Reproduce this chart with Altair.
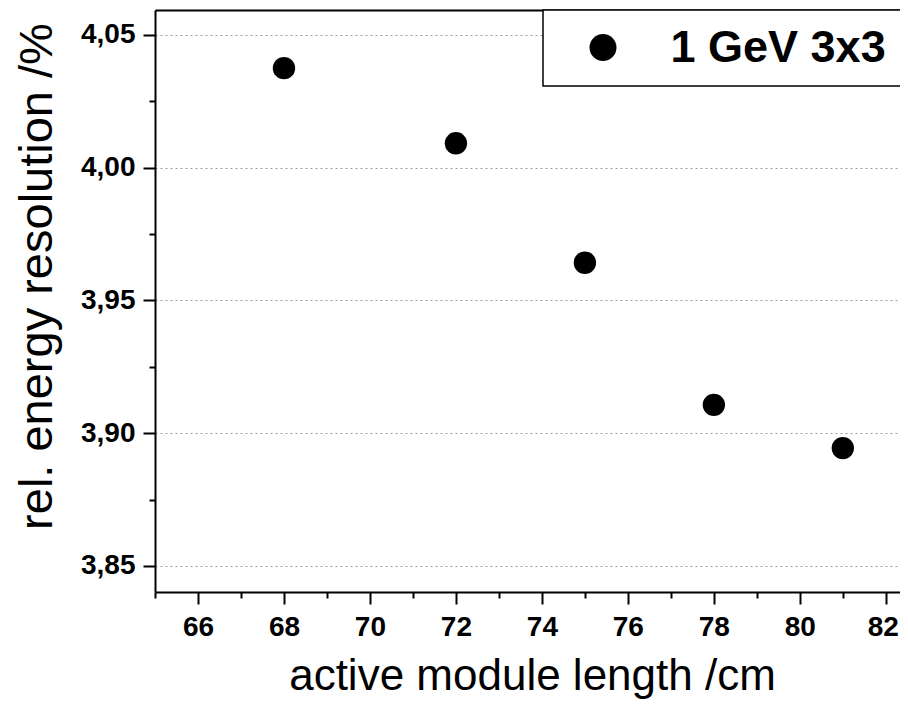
import altair as alt
import pandas as pd

# ---- data ----
length_cm = [68, 72, 75, 78, 81]
resolution_pct = [4.0375, 4.0092, 3.9642, 3.9107, 3.8944]
series_name = ["1 GeV 3x3"] * 5

x_major = [66, 68, 70, 72, 74, 76, 78, 80, 82]
x_minor = [65, 67, 69, 71, 73, 75, 77, 79, 81]
y_major = [3.85, 3.90, 3.95, 4.00, 4.05]
y_minor = [3.875, 3.925, 3.975, 4.025]
x_domain = [65, 82.33]
y_domain = [3.8402, 4.0594]

df = pd.DataFrame({"length": length_cm, "res": resolution_pct, "series": series_name})

FONT = "Liberation Sans"
xs = alt.Scale(domain=x_domain, nice=False, zero=False)
ys = alt.Scale(domain=y_domain, nice=False, zero=False)
comma_expr = "replace(format(datum.value, '.2f'), '.', ',')"

# minor ticks layer (invisible marks, only axes)
minor = alt.Chart(df).mark_point(opacity=0).encode(
    x=alt.X("length:Q", scale=xs, axis=alt.Axis(
        values=x_minor, orient="bottom", labels=False, domain=False, grid=False,
        tickSize=6, tickWidth=2, tickColor="black", title=None)),
    y=alt.Y("res:Q", scale=ys, axis=alt.Axis(
        values=y_minor, orient="left", labels=False, domain=False, grid=False,
        tickSize=6, tickWidth=2, tickColor="black", title=None)),
)

# top frame line
top = alt.Chart(df).mark_point(opacity=0).encode(
    x=alt.X("length:Q", scale=xs, axis=alt.Axis(
        orient="top", labels=False, ticks=False, grid=False, domain=True,
        domainColor="black", domainWidth=2, title=None)),
)

points = alt.Chart(df).mark_point(filled=True, size=500, opacity=1).encode(
    x=alt.X("length:Q", scale=xs, axis=alt.Axis(
        values=x_major, orient="bottom", format="d", grid=False,
        tickSize=12, tickWidth=2, tickColor="black",
        domainColor="black", domainWidth=2,
        labelFont=FONT, labelFontSize=28, labelFontWeight="bold", labelColor="black",
        labelPadding=9,
        labelOffset={"condition": {"test": "datum.value == 82", "value": -3}, "value": 0},
        title="active module length /cm", titleFont=FONT, titleFontSize=44,
        titleFontWeight="normal", titleColor="black",
        titleX=377, titleY=97, titleBaseline="alphabetic", titleAlign="center")),
    y=alt.Y("res:Q", scale=ys, axis=alt.Axis(
        values=y_major, orient="left", labelExpr=comma_expr,
        grid=True, gridColor="#9a9a9a", gridDash=[2, 3], gridWidth=1,
        tickSize=12, tickWidth=2, tickColor="black",
        domainColor="black", domainWidth=2,
        labelFont=FONT, labelFontSize=28, labelFontWeight="bold", labelColor="black",
        labelPadding=8,
        title="rel. energy resolution /%", titleFont=FONT, titleFontSize=47,
        titleFontWeight="normal", titleColor="black",
        titleX=-104, titleY=266, titleBaseline="alphabetic", titleAlign="center")),
    shape=alt.Shape("series:N", scale=alt.Scale(range=["circle"]), legend=alt.Legend(
        title=None, orient="none", legendX=388, legendY=0,
        symbolType="circle", symbolSize=729, symbolFillColor="black",
        symbolStrokeColor="black", symbolOpacity=1, symbolOffset=22.5,
        labelFont=FONT, labelFontSize=45, labelFontWeight="bold", labelColor="black",
        labelLimit=500, labelOffset=45, padding=15,
        strokeColor="black", fillColor="white")),
    color=alt.value("black"),
)

chart = alt.layer(minor, top, points).resolve_axis(
    x="independent", y="independent"
).properties(
    width=745, height=582,
    padding={"left": 147, "top": 2, "right": 0, "bottom": 107},
    autosize=alt.AutoSizeParams(type="none"),
    background="white",
).configure_view(stroke=None).configure_legend(strokeWidth=1.5)

chart.save("out.html", embed_options={"renderer": "svg", "actions": False})
